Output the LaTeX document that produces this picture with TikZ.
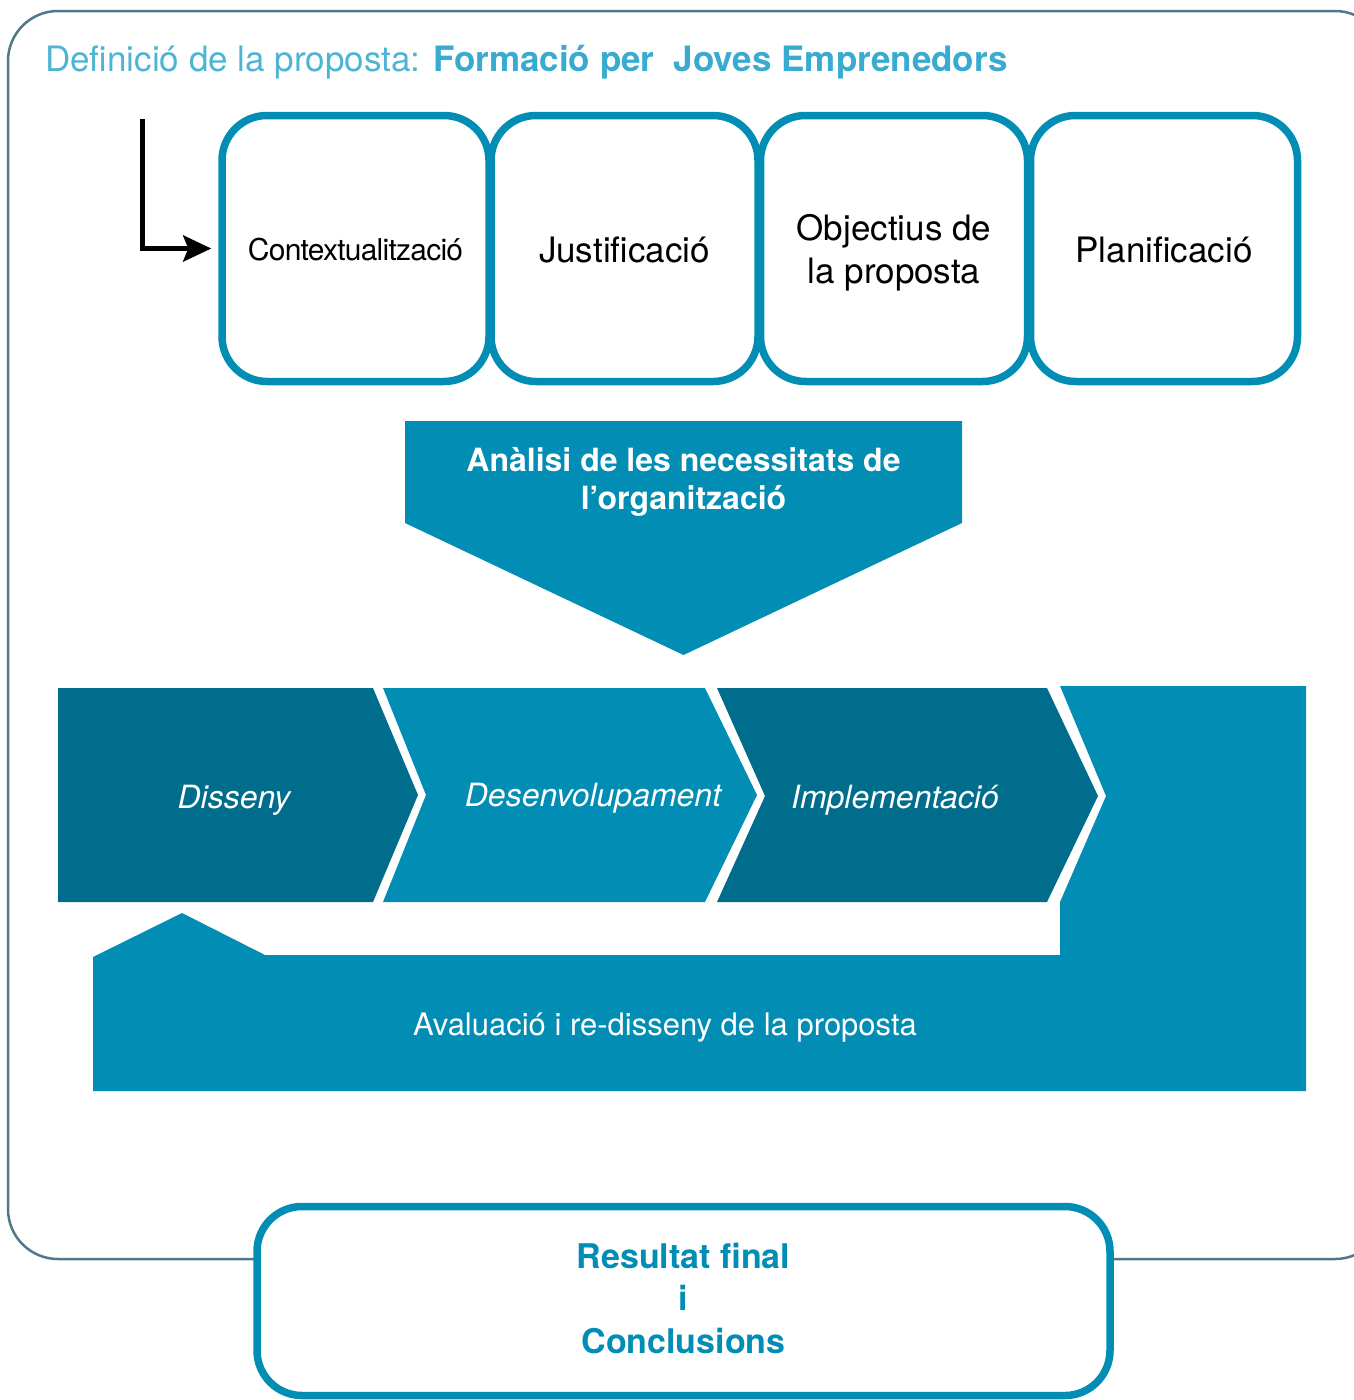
\documentclass[tikz,border=0pt]{standalone}
\usepackage{fontspec}
\setmainfont{TeX Gyre Heros}
\newfontfamily\tightheros{TeX Gyre Heros}[LetterSpace=-2.5]
\usetikzlibrary{arrows.meta}
\definecolor{midblue}{HTML}{028DB5}
\definecolor{darkblue}{HTML}{006D8D}
\definecolor{titlelight}{HTML}{4DB4D4}
\definecolor{titlebold}{HTML}{3AABD0}
\definecolor{outerline}{HTML}{50788A}
\begin{document}
\begin{tikzpicture}[x=1pt,y=-1pt,
  stagebox/.style={draw=midblue, line width=7.5pt, rounded corners=45pt, minimum width=267pt, minimum height=266pt, inner sep=0pt},
  boxtxt/.style={anchor=base, inner sep=0pt, font=\fontsize{35}{42}\selectfont},
  whitebold/.style={anchor=base, inner sep=0pt, text=white, font=\fontsize{32}{38}\selectfont\bfseries},
  chevtxt/.style={anchor=base, inner sep=0pt, text=white, font=\fontsize{32}{38}\selectfont\itshape},
  restxt/.style={anchor=base, inner sep=0pt, text=midblue, font=\fontsize{34}{40}\selectfont\bfseries}]
\useasboundingbox (0,0) rectangle (1353,1400);

% outer frame
\draw[outerline, line width=2.5pt, rounded corners=50pt] (8,11) rectangle (1385,1259);

% title
\node[anchor=base west, inner sep=0pt, font=\fontsize{35}{41}\selectfont] (title) at (45,71)
  {\textcolor{titlelight}{Definició de la proposta:} \textcolor{titlebold}{\bfseries Formació per\ \ Joves Emprenedors}};

% four stage boxes
\node[stagebox] (c1) at (355.5,248.5) {};
\node[stagebox] (c2) at (624.5,248.5) {};
\node[stagebox] (c3) at (894,248.5) {};
\node[stagebox] (c4) at (1164,248.5) {};
\node[boxtxt, font=\fontsize{30}{35}\selectfont\tightheros] (t1) at (355.5,260) {Contextualització};
\node[boxtxt] (t2) at (624.5,262) {Justificació};
\node[boxtxt] (t3a) at (894,240) {Objectius de};
\node[boxtxt] (t3b) at (894,283) {la proposta};
\node[boxtxt] (t4) at (1164,262) {Planificació};

% entry arrow
\coordinate (astart) at (142,119);
\draw[line width=5pt, -{Stealth[length=28pt,width=26pt,inset=5pt]}, shorten >=7pt] (astart) |- (c1.west);

% analysis arrow
\fill[midblue] (405,421) -- (962,421) -- (962,523) -- (683.5,655) -- (405,523) -- cycle;
\node[whitebold] (an1) at (683.5,471) {Anàlisi de les necessitats de};
\node[whitebold] (an2) at (683.5,509) {l’organització};

% chevrons
\fill[darkblue] (58,688) -- (373,688) -- (418,795) -- (373,902) -- (58,902) -- cycle;
\fill[midblue] (383,688) -- (705,688) -- (757,795) -- (705,902) -- (383,902) -- (426,795) -- cycle;
\fill[darkblue] (717,688) -- (1047,688) -- (1098,796) -- (1047,902) -- (717,902) -- (765,796) -- cycle;
% evaluation / feedback shape
\fill[midblue] (1060,686) -- (1306,686) -- (1306,1091) -- (93,1091) -- (93,957) -- (182,913) -- (265,955)
  -- (1060,955) -- (1060,902) -- (1106,796) -- cycle;

\node[chevtxt] (d1) at (234,808) {Disseny};
\node[chevtxt] (d2) at (593,806) {Desenvolupament};
\node[chevtxt] (d3) at (895,808) {Implementació};
\node[anchor=base, inner sep=0pt, text=white, font=\fontsize{31}{37}\selectfont] (ev) at (665,1035) {Avaluació i re-disseny de la proposta};

% result box
\node[stagebox, fill=white, minimum width=853pt, minimum height=189pt] (res) at (683.5,1301) {};
\node[restxt] (r1) at (683.5,1268) {Resultat final};
\node[restxt] (r2) at (683.5,1310) {i};
\node[restxt] (r3) at (683.5,1353) {Conclusions};
\end{tikzpicture}
\end{document}
